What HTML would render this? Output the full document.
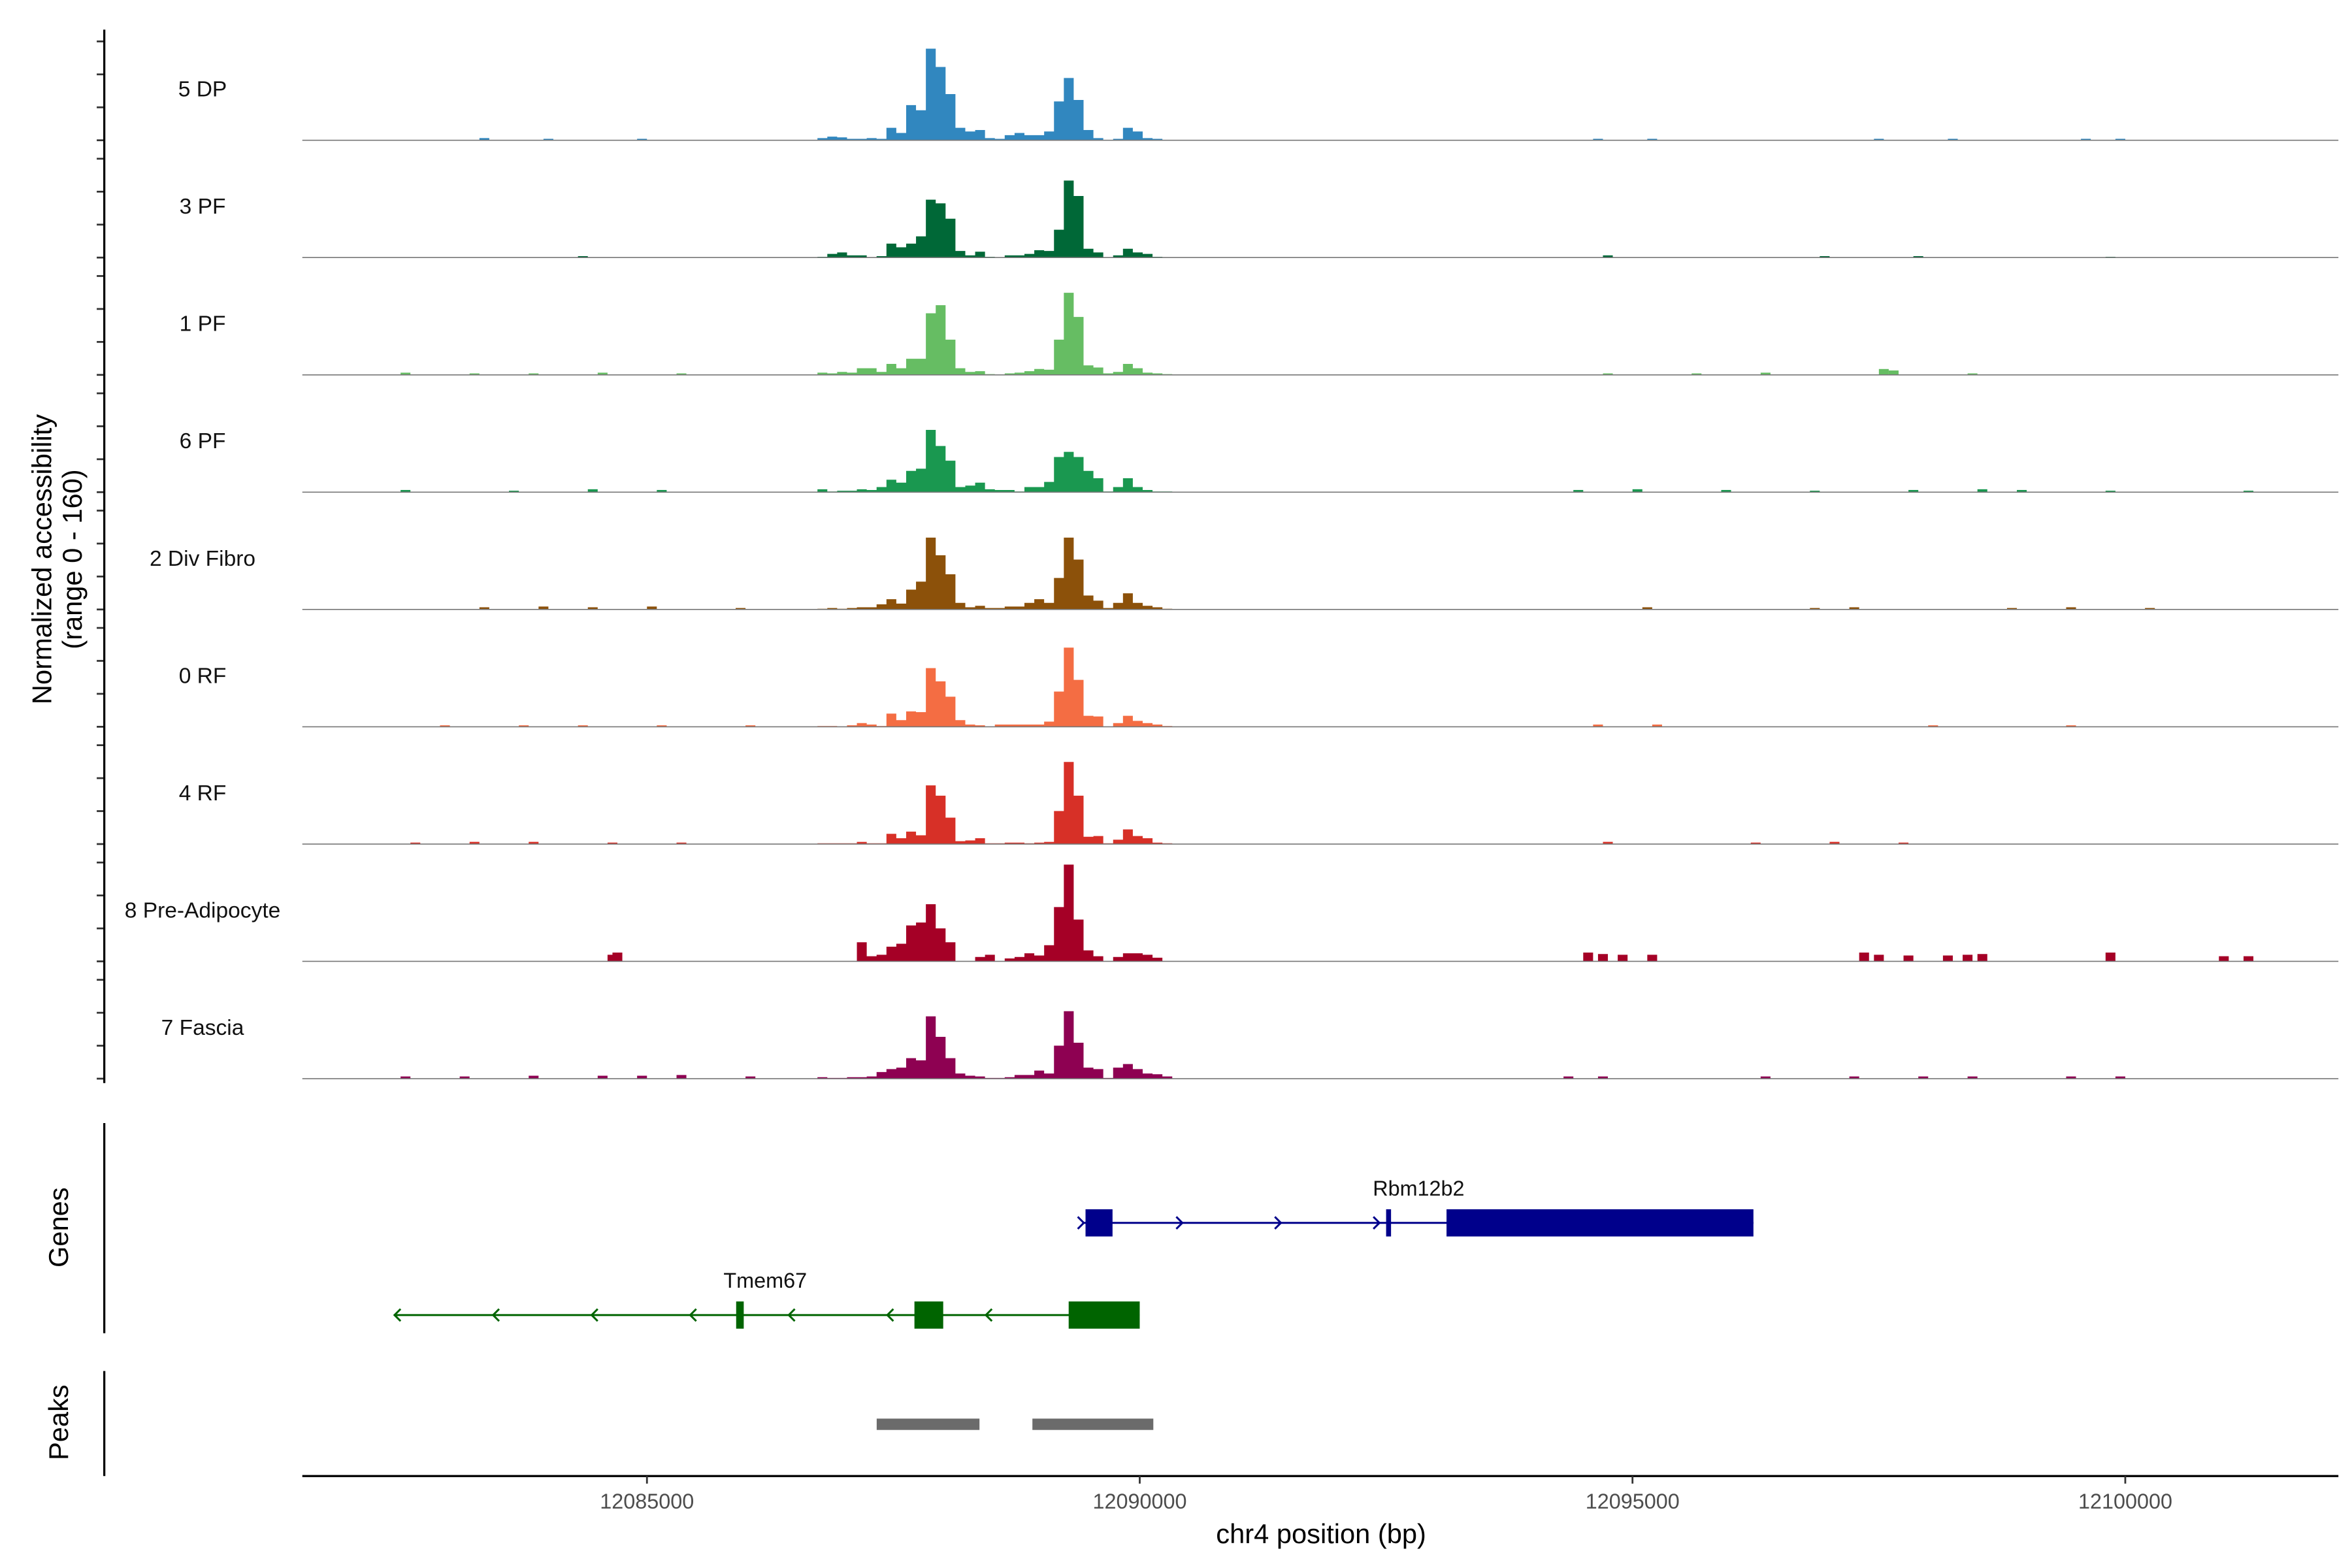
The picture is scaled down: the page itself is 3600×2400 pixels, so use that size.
<!DOCTYPE html>
<html><head><meta charset="utf-8"><style>
html,body{margin:0;padding:0;background:#fff;}
svg{display:block;font-family:"Liberation Sans",Arial,sans-serif;}
</style></head><body>
<svg id="chart" width="3600" height="2400" viewBox="0 0 1556 1037.33" xmlns="http://www.w3.org/2000/svg">
<rect width="1556" height="1037.33" fill="#fff"/>
<g id="tracks"></g>
<g id="genes"></g>
<g id="peaks"></g>
<g id="axes"></g>
</svg>
<script>
const trackNames = ["5 DP","3 PF","1 PF","6 PF","2 Div Fibro","0 RF","4 RF","8 Pre-Adipocyte","7 Fascia"];
const trackColors = ["#3187bf","#006837","#66bd63","#1a9850","#8c510a","#f46d43","#d73027","#a50026","#8e0152"];
const binStart = 12086730;
const binSize = 100;
const cov5DP = [3,5,4,2,2,3,2,17,10,48,41,125,100,63,17,12,14,3,2,7,10,7,7,12,53,85,55,14,3,0,2,17,12,3,2,0];
const cov3PF = [1,5,7,3,3,0,2,19,14,19,29,79,74,53,9,3,8,1,0,3,3,5,10,9,38,105,84,12,7,0,3,12,7,5,1,0];
const cov1PF = [3,2,4,3,9,9,4,15,9,22,22,84,95,48,9,4,5,1,0,2,3,5,8,7,48,112,79,13,10,2,4,15,9,3,2,1];
const cov6PF = [4,1,2,2,4,3,7,17,13,29,32,85,63,43,7,9,13,4,3,3,1,7,7,14,48,55,48,29,19,1,7,19,7,3,1,1];
const cov2DF = [1,2,1,2,3,3,7,14,8,27,38,98,74,48,9,3,5,2,2,4,4,9,14,9,43,98,68,19,12,2,9,22,9,5,3,1];
const cov0RF = [1,1,0,2,5,3,1,18,9,21,20,80,62,41,9,3,2,0,3,3,3,3,3,7,48,108,64,15,14,0,5,15,8,5,3,1];
const cov4RF = [1,1,1,1,3,1,1,14,8,17,12,80,66,36,4,5,8,1,1,2,2,1,2,3,45,112,66,10,11,1,6,20,11,8,2,1];
const cov8PA = [0,0,0,0,26,7,9,20,24,49,53,78,45,26,0,0,6,9,0,4,6,11,8,22,74,132,57,15,7,0,6,11,11,9,5,0];
const cov7F = [2,1,1,2,2,3,9,13,15,28,25,85,57,28,7,4,3,1,1,2,5,5,11,7,45,92,49,15,13,1,15,20,13,7,6,3];
const bgPos5DP = [12083300,12083950,12084900,12094600,12095150,12097450,12098200,12099550,12099900];
const bgVal5DP = [3,2,2,2,2,2,2,2,2];
const bgPos3PF = [12084300,12094700,12096900,12097850,12099800];
const bgVal3PF = [2,3,2,2,1];
const bgPos1PF = [12082500,12083200,12083800,12084500,12085300,12094700,12095600,12096300,12097500,12097600,12098400];
const bgVal1PF = [3,2,2,3,2,2,2,3,8,6,2];
const bgPos6PF = [12082500,12083600,12084400,12085100,12094400,12095000,12095900,12096800,12097800,12098500,12098900,12099800,12101200];
const bgVal6PF = [3,2,4,3,3,4,3,2,3,4,3,2,2];
const bgPos2DF = [12083300,12083900,12084400,12085000,12085900,12095100,12096800,12097200,12098800,12099400,12100200];
const bgVal2DF = [3,4,3,4,2,3,2,3,2,3,2];
const bgPos0RF = [12082900,12083700,12084300,12085100,12086000,12094600,12095200,12098000,12099400];
const bgVal0RF = [2,2,2,2,2,3,3,2,2];
const bgPos4RF = [12082600,12083200,12083800,12084600,12085300,12094700,12096200,12097000,12097700];
const bgVal4RF = [2,3,3,2,2,3,2,3,2];
const bgPos8PA = [12084600,12084650,12094500,12094650,12094850,12095150,12097300,12097450,12097750,12098150,12098350,12098500,12099800,12100950,12101200];
const bgVal8PA = [9,12,12,10,9,9,12,9,8,8,9,10,12,7,7];
const bgPos7F = [12082500,12083100,12083800,12084500,12084900,12085300,12086000,12094300,12094650,12096300,12097200,12097900,12098400,12099400,12099900];
const bgVal7F = [3,3,4,4,4,5,3,3,3,3,3,3,3,3,3];
const covData = [cov5DP,cov3PF,cov1PF,cov6PF,cov2DF,cov0RF,cov4RF,cov8PA,cov7F];
const bgPos = [bgPos5DP,bgPos3PF,bgPos1PF,bgPos6PF,bgPos2DF,bgPos0RF,bgPos4RF,bgPos8PA,bgPos7F];
const bgVal = [bgVal5DP,bgVal3PF,bgVal1PF,bgVal6PF,bgVal2DF,bgVal0RF,bgVal4RF,bgVal8PA,bgVal7F];
const xTicks = [12085000,12090000,12095000,12100000];
const xTickLabels = ["12085000","12090000","12095000","12100000"];
const geneNames = ["Rbm12b2","Tmem67"];
const geneStart = [12089417,12082454];
const geneEnd = [12096227,12090000];
const geneStrand = ["+","-"];
const geneExonStart = [[12089450,12092500,12093113],[12085905,12087714,12089279]];
const geneExonEnd = [[12089724,12092550,12096227],[12085982,12088006,12090000]];
const geneLabelPos = [12092830,12086200];
const peakStart = [12087331,12088911];
const peakEnd = [12088374,12090138];

const NS = "http://www.w3.org/2000/svg";
const X0 = 200, X1 = 1547, BP0 = 12081503, PXBP = 0.0652;
const xs = bp => X0 + (bp - BP0) * PXBP;
const TRACK_H = 77.6, BASE0 = 92.8, YMAX = 160;
const ys = (i, v) => BASE0 + i * TRACK_H - v / YMAX * TRACK_H;
function mk(tag, attrs, parent) {
  const e = document.createElementNS(NS, tag);
  for (const k in attrs) e.setAttribute(k, attrs[k]);
  parent.appendChild(e);
  return e;
}
const gT = document.getElementById('tracks');
const gG = document.getElementById('genes');
const gP = document.getElementById('peaks');
const gA = document.getElementById('axes');

for (let i = 0; i < trackNames.length; i++) {
  const base = BASE0 + i * TRACK_H;
  const g = mk('g', {}, gT);
  
  
  const vals = covData[i];
  let d = 'M' + xs(binStart) + ',' + base;
  for (let b = 0; b < vals.length; b++) {
    const a = xs(binStart + b * binSize), z = xs(binStart + (b + 1) * binSize), y = ys(i, vals[b]);
    d += 'L' + a + ',' + y + 'L' + z + ',' + y;
  }
  d += 'L' + xs(binStart + vals.length * binSize) + ',' + base + 'Z';
  const p = mk('path', {d: d, fill: trackColors[i]}, g);
  
  
  for (let k = 0; k < bgPos[i].length; k++) {
    const a = xs(bgPos[i][k]), z = xs(bgPos[i][k] + binSize), y = ys(i, bgVal[i][k]);
    const r = mk('rect', {x: a, y: y, width: z - a, height: base - y, fill: trackColors[i]}, g);
    
    
  }
  const bl = mk('line', {x1: X0, x2: X1, y1: base, y2: base, stroke: '#777', 'stroke-width': 0.7}, g);
  
  
  const t = mk('text', {x: 134, y: base - 29, 'font-size': 14.5, 'text-anchor': 'middle', fill: '#111'}, g);
  t.textContent = trackNames[i];
  
  
  for (let k = 0; k < 4; k++) {
    const ty = base - k * 21.8;
    const tk = mk('line', {x1: 64, x2: 69, y1: ty, y2: ty, stroke: '#333', 'stroke-width': 1.2}, gA);
    
    
  }
}

const geneColors = ["#00008b", "#006400"];
const geneY = [809, 870];
for (let j = 0; j < geneNames.length; j++) {
  const g = mk('g', {}, gG);
  
  
  const c = geneColors[j], y = geneY[j];
  const ln = mk('line', {x1: xs(geneStart[j]), x2: xs(geneEnd[j]), y1: y, y2: y, stroke: c, 'stroke-width': 1.3}, g);
  
  
  const step = 1000;
  for (let bp = geneStart[j]; bp < geneEnd[j]; bp += step) {
    const x = xs(bp);
    const dd = geneStrand[j] === '+' ? `M${x-3},${y-4}L${x+1},${y}L${x-3},${y+4}` : `M${x+3},${y-4}L${x-1},${y}L${x+3},${y+4}`;
    const ar = mk('path', {d: dd, stroke: c, fill: 'none', 'stroke-width': 1.3}, g);
    
    
  }
  for (let k = 0; k < geneExonStart[j].length; k++) {
    const a = xs(geneExonStart[j][k]), z = xs(geneExonEnd[j][k]);
    const ex = mk('rect', {x: a, y: y - 9, width: Math.max(z - a, 2.5), height: 18, fill: c}, g);
    
    
  }
  const lb = mk('text', {x: xs(geneLabelPos[j]), y: y - 18, 'font-size': 14, 'text-anchor': 'middle', fill: '#111'}, g);
  lb.textContent = geneNames[j];
  
  
}

for (let k = 0; k < peakStart.length; k++) {
  const a = xs(peakStart[k]), z = xs(peakEnd[k]);
  const r = mk('rect', {x: a, y: 938.5, width: z - a, height: 7.5, fill: '#6b6b6b'}, gP);
  
  
}

function line(x1, y1, x2, y2, w, name, col) {
  const l = mk('line', {x1: x1, y1: y1, x2: x2, y2: y2, stroke: col || '#000', 'stroke-width': w}, gA);
  
  
}
line(69, 19.6, 69, 716.5, 1.4, 'y-axis-line');
line(69, 743, 69, 882, 1.4, 'genes-axis-line');
line(69, 907, 69, 976.5, 1.4, 'peaks-axis-line');
line(X0, 976.5, X1, 976.5, 1.4, 'x-axis-line');
for (let k = 0; k < xTicks.length; k++) {
  const x = xs(xTicks[k]);
  line(x, 976.5, x, 981.5, 1.2, 'x-tick', '#333');
  const t = mk('text', {x: x, y: 998, 'font-size': 14, 'text-anchor': 'middle', fill: '#4d4d4d'}, gA);
  t.textContent = xTickLabels[k];
  
  
}
function txt(s, x, y, size, name, rot) {
  const t = mk('text', {x: x, y: y, 'font-size': size, 'text-anchor': 'middle', fill: '#000'}, gA);
  if (rot) t.setAttribute('transform', `rotate(-90 ${x} ${y})`);
  t.textContent = s;
  
  
}
txt('chr4 position (bp)', 874, 1021, 18, 'x-axis-title');
txt('Normalized accessibility', 34, 370, 18, 'y-axis-title', true);
txt('(range 0 - 160)', 54, 370, 18, 'y-axis-range', true);
txt('Genes', 45, 812, 18, 'genes-axis-title', true);
txt('Peaks', 45, 941, 18, 'peaks-axis-title', true);
</script>
</body></html>
